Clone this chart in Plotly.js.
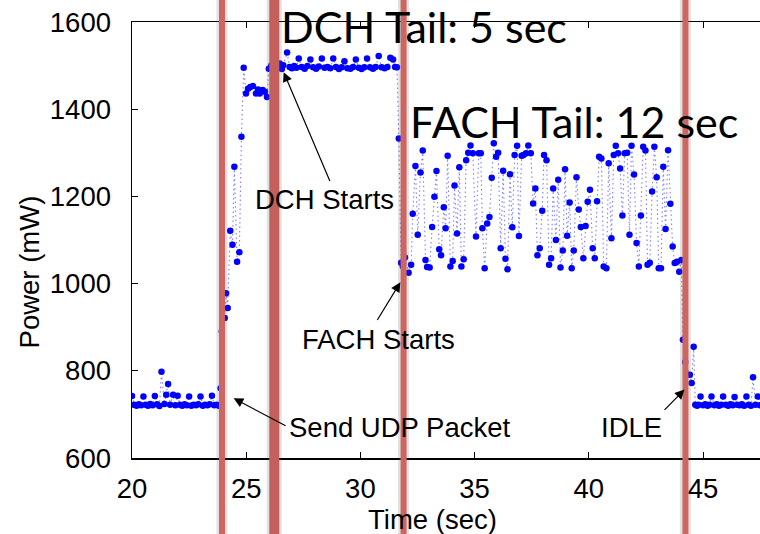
<!DOCTYPE html>
<html>
<head>
<meta charset="utf-8">
<script src="https://cdn.plot.ly/plotly-3.0.1.min.js"></script>
<style>
html,body{margin:0;padding:0;overflow:hidden;background:#fff;width:760px;height:534px;}
#chart{width:780px;height:534px;}
</style>
</head>
<body>
<div id="chart"></div>
<script>
// ---- data (time in seconds, power in mW) ----
const idleBeforeTime = [20.0,20.1,20.2,20.3,20.4,20.5,20.6,20.7,20.8,20.9,21.0,21.1,21.2,21.29,21.42,21.5,21.58,21.67,21.8,21.9,22.0,22.1,22.2,22.3,22.4,22.5,22.6,22.7,22.8,22.9,23.0,23.1,23.2,23.3,23.4,23.5,23.6,23.7,23.8];
const idleBeforePower = [742,722,720,723,721,741,722,720,724,721,742,723,719,798,724,745,770,722,745,721,743,722,720,723,721,741,720,722,721,723,741,720,722,721,723,743,721,722,720];

const rampTime = [23.88,23.93,24.06,24.12,24.19,24.30,24.40,24.48,24.60,24.70,24.79,24.89,24.99,25.08,25.18,25.30,25.43,25.52,25.59,25.72,25.82,25.91,25.99,26.10,26.25,26.40];
const rampPower = [760,890,921,978,944,1121,1089,1268,1050,1072,1337,1495,1436,1447,1451,1453,1436,1445,1436,1444,1440,1428,1493,1500,1497,1500];

const dchTime = [26.47,26.56,26.62,26.79,26.90,27.00,27.10,27.20,27.30,27.43,27.56,27.68,27.81,27.93,28.06,28.18,28.31,28.43,28.56,28.68,28.81,28.93,29.06,29.18,29.30,29.43,29.56,29.68,29.80,29.93,30.05,30.17,30.29,30.42,30.55,30.67,30.80,30.93,31.06,31.18,31.31,31.43,31.52,31.60,31.68];
const dchPower = [1505,1492,1501,1530,1497,1494,1499,1495,1516,1497,1493,1499,1514,1496,1493,1498,1516,1495,1497,1494,1516,1497,1492,1496,1510,1494,1493,1497,1514,1495,1492,1496,1516,1496,1493,1497,1522,1496,1494,1497,1518,1514,1497,1496,1333];

const fachTime = [31.78,31.86,31.95,32.11,32.22,32.29,32.41,32.51,32.63,32.73,32.85,32.92,33.03,33.14,33.24,33.33,33.45,33.53,33.65,33.73,33.82,33.94,34.04,34.12,34.23,34.33,34.42,34.52,34.63,34.72,34.82,34.92,35.06,35.18,35.27,35.34,35.44,35.55,35.65,35.75,35.84,35.94,36.03,36.14,36.25,36.35,36.44,36.55,36.65,36.75,36.86,36.94,37.06,37.14,37.25,37.35,37.46,37.56,37.66,37.75,37.85,37.96,38.04,38.15,38.26,38.35,38.44,38.56,38.66,38.76,38.86,38.96,39.05,39.16,39.25,39.34,39.46,39.56,39.65,39.76,39.86,39.95,40.05,40.17,40.26,40.36,40.45,40.55,40.65,40.77,40.87,40.99,41.09,41.18,41.28,41.37,41.47,41.57,41.68,41.78,41.87,41.98,42.09,42.19,42.28,42.38,42.48,42.57,42.67,42.77,42.87,42.97,43.06,43.16,43.26,43.36,43.47,43.57,43.67,43.76,43.86,43.96,44.05];
const fachPower = [1048,1040,1060,1025,1043,1160,1270,1112,1255,1305,1054,1038,1037,1130,1199,1258,1079,1065,1175,1127,1293,1039,1052,1225,1115,1267,1039,1056,1283,1300,1317,1299,1108,1299,1299,1127,1035,1138,1153,1243,1322,1291,1300,1081,1259,1057,1033,1251,1129,1295,1316,1109,1293,1295,1299,1317,1299,1184,1218,1065,1081,1167,1295,1283,1043,1058,1218,1100,1238,1037,1076,1262,1110,1186,1035,1076,1244,1170,1130,1058,1132,1188,1215,1081,1058,1189,1291,1287,1039,1035,1276,1104,1295,1316,1299,1264,1156,1299,1300,1112,1316,1250,1093,1039,1156,1314,1305,1043,1048,1211,1314,1244,1035,1035,1268,1125,1306,1183,1085,1047,1050,1027,1054];

const idleAfterTime = [44.12,44.22,44.42,44.50,44.59,44.66,44.74,44.80,44.89,45.00,45.10,45.20,45.28,45.37,45.50,45.60,45.70,45.80,45.88,46.00,46.10,46.20,46.30,46.38,46.50,46.60,46.70,46.80,46.90,47.00,47.10,47.19,47.30,47.40,47.50,47.60,47.70,47.80,47.90,48.00,48.10,48.20,48.30];
const idleAfterPower = [871,820,791,772,855,722,720,722,741,721,723,720,722,741,721,723,720,722,741,722,720,723,721,740,722,721,723,720,741,722,720,785,722,741,721,723,720,722,741,721,722,720,723];

// state-change events (sec)
const eventTimes = [23.94, 26.23, 31.89, 44.23];
const xTicks = [20,25,30,35,40,45];
const yTicks = [600,800,1000,1200,1400,1600];

const time = [].concat(idleBeforeTime, rampTime, dchTime, fachTime, idleAfterTime);
const power = [].concat(idleBeforePower, rampPower, dchPower, fachPower, idleAfterPower);

const axisFont = {family: 'Liberation Sans, Arial, Helvetica, sans-serif', size: 27.5, color: '#000'};
const bigFont = {family: 'Lato, Open Sans, sans-serif', size: 43, color: '#000'};

const trace = {
  x: time, y: power, type: 'scatter', mode: 'lines+markers',
  line: {color: 'rgba(0,0,255,0.5)', width: 1.1, dash: '1.5px,3px'},
  marker: {color: '#0000ff', size: 6.5},
  hoverinfo: 'x+y', showlegend: false, cliponaxis: true
};

const shapes = [];
eventTimes.forEach((t, i) => {
  const w = i === 1 ? 10 : 6;
  shapes.push({type: 'line', xref: 'x', yref: 'paper', x0: t, x1: t, y0: -0.2, y1: 1.1,
    line: {color: 'rgba(90,90,90,0.18)', width: w + 5}, layer: 'above'});
  shapes.push({type: 'line', xref: 'x', yref: 'paper', x0: t, x1: t, y0: -0.2, y1: 1.1,
    line: {color: i === 1 ? '#c4605b' : '#cd6661', width: w}, layer: 'above'});
});

function arrow(tipX, tipY, tailX, tailY) {
  return {x: tipX, y: tipY, ax: tailX, ay: tailY, xref: 'x', yref: 'y', axref: 'x', ayref: 'y',
    text: '', showarrow: true, arrowhead: 2, arrowsize: 1.6, arrowwidth: 1.2, arrowcolor: '#000'};
}
function label(txt, x, y, font) {
  return {x: x, y: y, xref: 'x', yref: 'y', text: txt, showarrow: false, font: font,
    xanchor: 'center', yanchor: 'middle'};
}

const annotations = [
  label('DCH Tail: 5 sec', 32.78, 1590, bigFont),
  label('FACH Tail: 12 sec', 39.37, 1371, bigFont),
  label('DCH Starts', 28.43, 1193, axisFont),
  arrow(26.64, 1485, 28.69, 1232),
  label('FACH Starts', 30.77, 871, axisFont),
  arrow(31.75, 1003, 30.70, 913),
  label('Send UDP Packet', 31.75, 669, axisFont),
  arrow(24.45, 737, 26.79, 672),
  label('IDLE', 41.87, 669, axisFont),
  arrow(44.19, 757, 43.25, 707),
  // axis titles
  {x: 33.15, y: -0.14, xref: 'x', yref: 'paper', text: 'Time (sec)', showarrow: false,
    font: axisFont, xanchor: 'center', yanchor: 'middle'},
  {x: -0.158, y: 0.427, xref: 'paper', yref: 'paper', text: 'Power (mW)', showarrow: false,
    font: axisFont, textangle: -90, xanchor: 'center', yanchor: 'middle'}
];

const layout = {
  width: 780, height: 534,
  margin: {l: 132, r: 0, t: 22, b: 76, pad: 0},
  paper_bgcolor: '#fff', plot_bgcolor: '#fff',
  font: axisFont,
  xaxis: {
    range: [20, 48.37], tickvals: xTicks, ticktext: xTicks.map(String),
    showgrid: false, zeroline: false, showline: true, linecolor: '#000', linewidth: 1.5,
    mirror: 'allticks', ticks: 'inside', ticklen: 6, tickwidth: 1, tickcolor: '#000',
    tickfont: axisFont, ticklabelstandoff: 5
  },
  yaxis: {
    range: [600, 1600], tickvals: yTicks, ticktext: yTicks.map(String),
    showgrid: false, zeroline: false, showline: true, linecolor: '#000', linewidth: 1.5,
    mirror: 'allticks', ticks: 'inside', ticklen: 6, tickwidth: 1, tickcolor: '#000',
    tickfont: axisFont, ticklabelstandoff: 14
  },
  shapes: shapes,
  annotations: annotations
};

Plotly.newPlot('chart', [trace], layout, {staticPlot: true, displayModeBar: false});
</script>
</body>
</html>
